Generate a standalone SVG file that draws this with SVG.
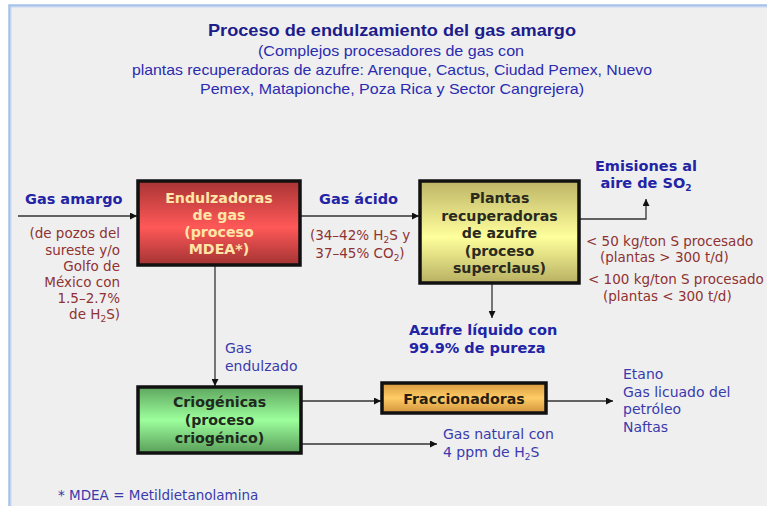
<svg xmlns="http://www.w3.org/2000/svg" width="767" height="506" viewBox="0 0 767 506">
<defs>
<linearGradient id="gRed" x1="0" y1="0" x2="0" y2="1"><stop offset="0" stop-color="#a83434"/><stop offset="0.55" stop-color="#ff5858"/><stop offset="1" stop-color="#a33333"/></linearGradient>
<linearGradient id="gYel" x1="0" y1="0" x2="0" y2="1"><stop offset="0" stop-color="#bdb466"/><stop offset="0.55" stop-color="#ffff9c"/><stop offset="1" stop-color="#b8b062"/></linearGradient>
<linearGradient id="gGrn" x1="0" y1="0" x2="0" y2="1"><stop offset="0" stop-color="#5ea65e"/><stop offset="0.5" stop-color="#9cff9c"/><stop offset="1" stop-color="#5a9e5a"/></linearGradient>
<linearGradient id="gOra" x1="0" y1="0" x2="0" y2="1"><stop offset="0" stop-color="#d89a3c"/><stop offset="0.5" stop-color="#ffcc66"/><stop offset="1" stop-color="#d0923a"/></linearGradient>
<marker id="arr" viewBox="0 0 10 10" refX="10" refY="5" markerWidth="9" markerHeight="7" markerUnits="userSpaceOnUse" orient="auto"><path d="M0,0 L10,5 L0,10 z" fill="#111"/></marker>
</defs>
<style>
.box{stroke:#111;stroke-width:3.5}
.con{fill:none;stroke:#333;stroke-width:1.3}
.t{font-family:"Liberation Sans",Arial,sans-serif}
.b{font-family:"DejaVu Sans",Verdana,sans-serif;font-weight:bold;font-size:14.5px;fill:#2323a6}
.bx{font-family:"DejaVu Sans",Verdana,sans-serif;font-weight:bold;font-size:14.2px;text-anchor:middle}
.r{font-family:"DejaVu Sans",Verdana,sans-serif;font-size:13.5px;fill:#8e3232}
.bl{font-family:"DejaVu Sans",Verdana,sans-serif;font-size:14px;fill:#3a3aad}
.sub{font-size:9px}
</style>
<rect x="0" y="0" width="767" height="506" fill="#ffffff"/>
<rect x="9" y="5" width="770" height="510" fill="#efefef"/>
<path d="M9.5,506 V5.5 H767" fill="none" stroke="#a6c2ea" stroke-width="2.5"/>
<path d="M11,506 V7 H767" fill="none" stroke="#c8daf2" stroke-width="1"/>

<g id="title" class="t">
<text x="392" y="36" text-anchor="middle" font-weight="bold" font-size="16.5" fill="#1c1c8c" textLength="368" lengthAdjust="spacingAndGlyphs">Proceso de endulzamiento del gas amargo</text>
<g fill="#2b2bb0" font-size="15" text-anchor="middle">
<text x="391" y="56" textLength="266" lengthAdjust="spacingAndGlyphs">(Complejos procesadores de gas con</text>
<text x="392" y="75" textLength="520" lengthAdjust="spacingAndGlyphs">plantas recuperadoras de azufre: Arenque, Cactus, Ciudad Pemex, Nuevo</text>
<text x="392" y="94" textLength="384" lengthAdjust="spacingAndGlyphs">Pemex, Matapionche, Poza Rica y Sector Cangrejera)</text>
</g>
</g>

<g id="connectors">
<path class="con" d="M18,216 H137" marker-end="url(#arr)"/>
<path class="con" d="M300,216 H419" marker-end="url(#arr)"/>
<path class="con" d="M579,219 H646 V199" marker-end="url(#arr)"/>
<path class="con" d="M492,283 V318" marker-end="url(#arr)"/>
<path class="con" d="M215,265 V386" marker-end="url(#arr)"/>
<path class="con" d="M301,401 H381" marker-end="url(#arr)"/>
<path class="con" d="M546,401 H613" marker-end="url(#arr)"/>
<path class="con" d="M301,444 H437" marker-end="url(#arr)"/>
</g>

<g id="endulzadoras">
<rect class="box" x="138" y="181" width="162" height="84" fill="url(#gRed)"/>
<g class="bx" fill="#ffe6a6">
<text x="219" y="203">Endulzadoras</text>
<text x="219" y="220">de gas</text>
<text x="219" y="237">(proceso</text>
<text x="219" y="254">MDEA*)</text>
</g>
</g>

<g id="plantas">
<rect class="box" x="420" y="181" width="159" height="102" fill="url(#gYel)"/>
<g class="bx" fill="#2a2a1e">
<text x="499.5" y="203">Plantas</text>
<text x="499.5" y="220.5">recuperadoras</text>
<text x="499.5" y="238">de azufre</text>
<text x="499.5" y="255.5">(proceso</text>
<text x="499.5" y="273">superclaus)</text>
</g>
</g>

<g id="criogenicas">
<rect class="box" x="138" y="387" width="163" height="66" fill="url(#gGrn)"/>
<g class="bx" fill="#1e2a1e">
<text x="219.5" y="407">Criogénicas</text>
<text x="219.5" y="425">(proceso</text>
<text x="219.5" y="443">criogénico)</text>
</g>
</g>

<g id="fraccionadoras">
<rect class="box" x="382" y="383" width="164" height="30" fill="url(#gOra)"/>
<text class="bx" x="464" y="404" fill="#2a1e10">Fraccionadoras</text>
</g>

<g id="labels">
<text class="b" x="25" y="204">Gas amargo</text>
<g class="r" text-anchor="end">
<text x="120" y="238">(de pozos del</text>
<text x="120" y="255">sureste y/o</text>
<text x="120" y="271">Golfo de</text>
<text x="120" y="287">México con</text>
<text x="120" y="303">1.5–2.7%</text>
<text x="120" y="319">de H<tspan class="sub" dy="3">2</tspan><tspan dy="-3">S)</tspan></text>
</g>
<text class="b" x="319" y="204">Gas ácido</text>
<g class="r" text-anchor="middle">
<text x="360" y="240">(34–42% H<tspan class="sub" dy="2.5">2</tspan><tspan dy="-2.5">S y</tspan></text>
<text x="360" y="258">37–45% CO<tspan class="sub" dy="2.5">2</tspan><tspan dy="-2.5">)</tspan></text>
</g>
<g class="b" text-anchor="middle">
<text x="646" y="171">Emisiones al</text>
<text x="646" y="188">aire de SO<tspan class="sub" dy="3">2</tspan></text>
</g>
<g class="r">
<text x="586" y="246">&lt; 50 kg/ton S procesado</text>
<text x="600" y="262">(plantas &gt; 300 t/d)</text>
<text x="588" y="284">&lt; 100 kg/ton S procesado</text>
<text x="603" y="301">(plantas &lt; 300 t/d)</text>
</g>
<g class="b">
<text x="409" y="335">Azufre líquido con</text>
<text x="409" y="353">99.9% de pureza</text>
</g>
<g class="bl">
<text x="225" y="353">Gas</text>
<text x="225" y="371">endulzado</text>
<text x="623" y="379">Etano</text>
<text x="623" y="397">Gas licuado del</text>
<text x="623" y="414">petróleo</text>
<text x="623" y="432">Naftas</text>
<text x="443" y="439">Gas natural con</text>
<text x="443" y="457">4 ppm de H<tspan class="sub" dy="3">2</tspan><tspan dy="-3">S</tspan></text>
<text x="58" y="500" font-size="13.5">* MDEA = Metildietanolamina</text>
</g>
</g>
</svg>
